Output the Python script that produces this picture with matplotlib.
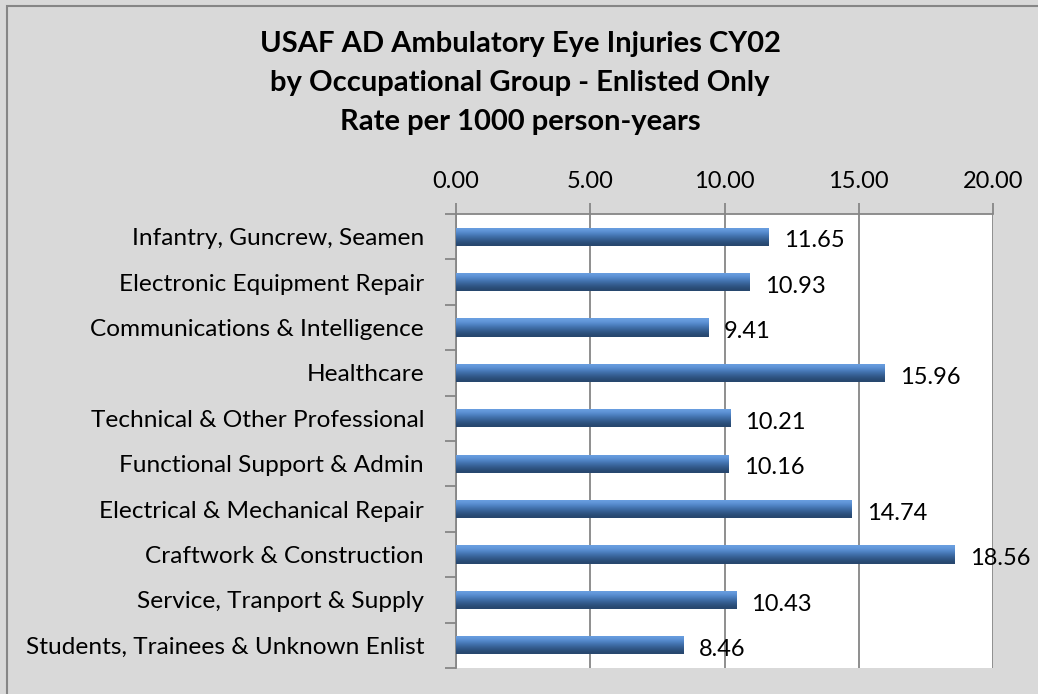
import numpy as np
import matplotlib
matplotlib.use("Agg")
import matplotlib.pyplot as plt
from matplotlib.patches import Rectangle

CATEGORIES = [
    "Infantry, Guncrew, Seamen",
    "Electronic Equipment Repair",
    "Communications & Intelligence",
    "Healthcare",
    "Technical & Other Professional",
    "Functional Support & Admin",
    "Electrical & Mechanical Repair",
    "Craftwork & Construction",
    "Service, Tranport & Supply",
    "Students, Trainees & Unknown Enlist",
]
RATES = [11.65, 10.93, 9.41, 15.96, 10.21, 10.16, 14.74, 18.56, 10.43, 8.46]
XTICKS = [0, 5, 10, 15, 20]

TITLE = ("USAF AD Ambulatory Eye Injuries CY02\n"
         "by Occupational Group - Enlisted Only\n"
         "Rate per 1000 person-years")

BG = "#d9d9d9"
AXIS_GRAY = "#868686"

plt.rcParams['font.family'] = ['Lato', 'DejaVu Sans']

fig = plt.figure(figsize=(10.38, 6.94), dpi=100, facecolor=BG)
# outer chart border (left/top visible)
fig.patches.append(Rectangle((7 / 1038, -0.1), 1.2, 1 - 6 / 694 + 0.1,
                             transform=fig.transFigure, facecolor=BG,
                             edgecolor=AXIS_GRAY, lw=1.5, zorder=-1))

ax = fig.add_axes([456 / 1038, 1 - 668 / 694, (993 - 456) / 1038, (668 - 214) / 694])
ax.set_facecolor("white")

y = np.arange(len(CATEGORIES))
bars = ax.barh(y, RATES, height=0.4, color="#4f81bd", edgecolor="none", zorder=3)

# bevelled look: vertical gradient clipped to each bar
grad = np.array([0.0, 0.15, 0.35, 0.55, 0.7, 0.85, 1.0]).reshape(-1, 1)
cmap = matplotlib.colors.LinearSegmentedColormap.from_list(
    "bevel", ["#6a9fe0", "#5a8fd3", "#4a7dbd", "#3d6aa3", "#2f5583", "#27476e"])
for b in bars:
    x0, y0 = b.get_x(), b.get_y()
    w, h = b.get_width(), b.get_height()
    im = ax.imshow(grad, cmap=cmap, aspect="auto", interpolation="bicubic",
                   extent=[x0, x0 + w, y0 + h, y0], zorder=4)
    im.set_clip_path(b)

for yi, v in zip(y, RATES):
    ax.annotate(f"{v:.2f}", (v, yi), xytext=(11, -3), textcoords="offset points",
                ha="left", va="center", fontsize=17, color="black", zorder=5)

ax.set_xlim(0, 20)
ax.set_ylim(len(CATEGORIES) - 0.5, -0.5)

ax.xaxis.tick_top()
ax.set_xticks(XTICKS)
ax.set_xticklabels([f"{t:.2f}" for t in XTICKS], fontsize=17)
ax.tick_params(axis="x", length=8, width=1.3, color=AXIS_GRAY, pad=8)
ax.grid(axis="x", color=AXIS_GRAY, lw=1.3, zorder=1)

ax.set_yticks(y)
ax.set_yticklabels(CATEGORIES, fontsize=17.6)
ax.set_yticks(np.arange(-0.5, len(CATEGORIES)), minor=True)
ax.tick_params(axis="y", which="major", length=0, pad=23)
ax.tick_params(axis="y", which="minor", length=8, width=1.3, color=AXIS_GRAY)

for s in ["right", "bottom"]:
    ax.spines[s].set_visible(False)
for s in ["top", "left"]:
    ax.spines[s].set_color(AXIS_GRAY)
    ax.spines[s].set_linewidth(1.3)

fig.text(520 / 1038, 1 - 83 / 694, TITLE, ha="center", va="center",
         fontsize=21, fontweight="bold", linespacing=1.6)

fig.savefig("out.png", dpi=100, facecolor=BG)
